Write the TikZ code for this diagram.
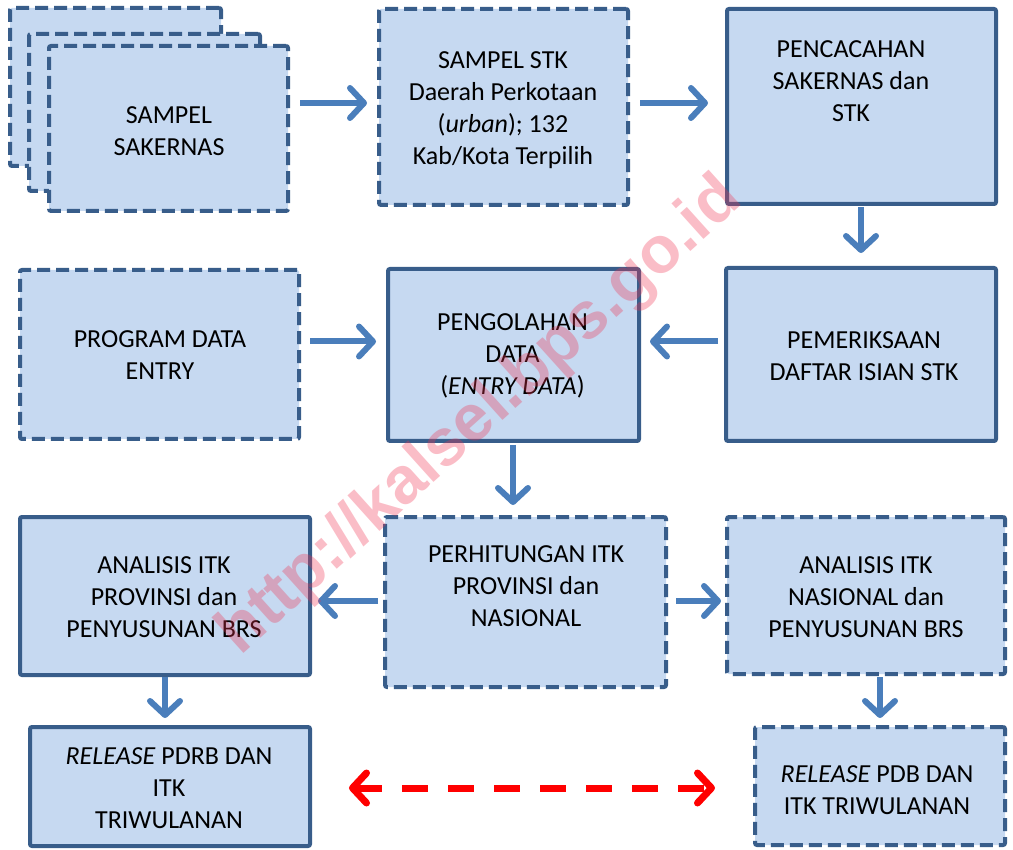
\documentclass[tikz,border=0pt]{standalone}
\usepackage{fontspec}
\setmainfont{Carlito}
\newfontfamily\wmfont{Liberation Sans}
\usetikzlibrary{arrows.meta}
\definecolor{boxfill}{RGB}{198,217,241}
\definecolor{boxline}{RGB}{56,93,138}
\definecolor{arrblue}{RGB}{74,126,187}
\definecolor{wmred}{RGB}{240,50,80}
\tikzset{
  box/.style={draw=boxline, fill=boxfill, line width=4pt, rounded corners=2pt, inner sep=0pt},
  dashbox/.style={box, dash pattern=on 13pt off 6pt},
  txt/.style={align=center, inner sep=0pt, font=\fontsize{26}{32}\selectfont, text=black},
  arr/.style={draw=arrblue, line width=6pt, -{Straight Barb[length=14pt, width=30pt, round]}},
  redarr/.style={draw=red, line width=7pt, dash pattern=on 26pt off 20pt,
    {Straight Barb[length=14pt, width=30pt, round]}-{Straight Barb[length=14pt, width=30pt, round]}},
  wm/.style={text=wmred, opacity=0.32, inner sep=0pt, font=\wmfont\bfseries\fontsize{66}{70}\selectfont}
}
\begin{document}
\begin{tikzpicture}[x=1pt, y=-1pt]
\useasboundingbox (0,0) rectangle (1013,850);
% row 1
\node[dashbox, minimum width=211pt, minimum height=158pt] (b1a) at (115.5,87) {};
\node[dashbox, minimum width=231pt, minimum height=157pt] (b1b) at (144.5,112.5) {};
\node[dashbox, minimum width=239pt, minimum height=165pt] (b1) at (168.5,128.5) {};
\node[txt] (t1) at (169,131) {SAMPEL\\SAKERNAS};
\node[dashbox, minimum width=249pt, minimum height=196pt] (b2) at (503.5,107) {};
\node[txt] (t2) at (503,110) {SAMPEL STK\\Daerah Perkotaan\\(\textit{urban}); 132\\Kab/Kota Terpilih};
\node[box, minimum width=269pt, minimum height=195pt] (b3) at (861.5,106.5) {};
\node[txt] (t3) at (851,81) {PENCACAHAN\\SAKERNAS dan\\STK};
% row 2
\node[dashbox, minimum width=279pt, minimum height=169pt] (b4) at (159.5,354.5) {};
\node[txt] (t4) at (160,355) {PROGRAM DATA\\ENTRY};
\node[box, minimum width=251pt, minimum height=172pt] (b5) at (513.5,355) {};
\node[txt] (t5) at (512.5,356) {PENGOLAHAN\\DATA\\(\textit{ENTRY DATA})};
\node[box, minimum width=270pt, minimum height=173pt] (b6) at (861,354.5) {};
\node[txt] (t6) at (864,356) {PEMERIKSAAN\\DAFTAR ISIAN STK};
% row 3
\node[box, minimum width=290pt, minimum height=158pt] (b7) at (165,596) {};
\node[txt] (t7) at (164,597) {ANALISIS ITK\\PROVINSI dan\\PENYUSUNAN BRS};
\node[dashbox, minimum width=281pt, minimum height=170pt] (b8) at (525.5,602) {};
\node[txt] (t8) at (526,586) {PERHITUNGAN ITK\\PROVINSI dan\\NASIONAL};
\node[dashbox, minimum width=278pt, minimum height=157pt] (b9) at (866,595.5) {};
\node[txt] (t9) at (866,597) {ANALISIS ITK\\NASIONAL dan\\PENYUSUNAN BRS};
% row 4
\node[box, minimum width=280pt, minimum height=119pt] (b10) at (170,786.5) {};
\node[txt] (t10) at (169,788) {\textit{RELEASE} PDRB DAN\\ITK\\TRIWULANAN};
\node[dashbox, minimum width=250pt, minimum height=118pt] (b11) at (880,786) {};
\node[txt] (t11) at (877,790) {\textit{RELEASE} PDB DAN\\ITK TRIWULANAN};
% levels
\coordinate (y1) at (0,103);
\coordinate (y2) at (0,341.5);
\coordinate (y3) at (0,601);
\coordinate (y4) at (0,788);
\coordinate (x1) at (861,0);
\coordinate (x2) at (513,0);
\coordinate (x3) at (165,0);
\coordinate (x4) at (880,0);
% arrows
\draw[arr, shorten <=10pt, shorten >=10pt] (b1.east |- y1) -- (b2.west |- y1);
\draw[arr, shorten <=10pt, shorten >=17pt] (b2.east |- y1) -- (b3.west |- y1);
\draw[arr, shorten <=1pt, shorten >=13pt] (b3.south -| x1) -- (b6.north -| x1);
\draw[arr, shorten <=6pt, shorten >=9pt] (b6.west |- y2) -- (b5.east |- y2);
\draw[arr, shorten <=9pt, shorten >=10pt] (b4.east |- y2) -- (b5.west |- y2);
\draw[arr, shorten <=2pt, shorten >=10pt] (b5.south -| x2) -- (b8.north -| x2);
\draw[arr, shorten <=5pt, shorten >=6pt] (b8.west |- y3) -- (b7.east |- y3);
\draw[arr, shorten <=8pt, shorten >=4pt] (b8.east |- y3) -- (b9.west |- y3);
\draw[arr, shorten <=0pt, shorten >=7pt] (b7.south -| x3) -- (b10.north -| x3);
\draw[arr, shorten <=1pt, shorten >=7pt] (b9.south -| x4) -- (b11.north -| x4);
\draw[redarr, shorten <=37pt, shorten >=38pt] (b10.east |- y4) -- (b11.west |- y4);
% watermark
\node[wm, rotate=42, anchor=base west] (wm) at (240,657) {http://kalsel.bps.go.id};
\end{tikzpicture}
\end{document}
